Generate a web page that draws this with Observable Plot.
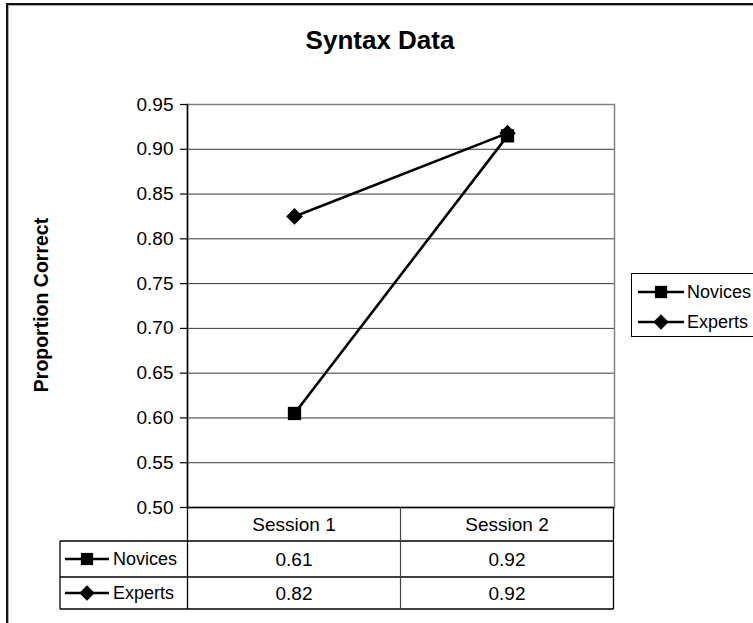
<!DOCTYPE html>
<html><head><meta charset="utf-8">
<script src="https://cdn.jsdelivr.net/npm/d3@7"></script>
<script src="https://cdn.jsdelivr.net/npm/@observablehq/plot@0.6"></script>
<style>
body{margin:0;background:#fff;}
#wrap{position:relative;width:753px;height:623px;overflow:hidden;background:#fff;font-family:"Liberation Sans",Arial,sans-serif;color:#000;}
#wrap > *{position:absolute;}
.frameOuter{left:6px;top:3px;width:900px;height:900px;border-left:2px solid #111;border-top:2px solid #111;box-shadow:inset 1px 1px 0 #aaa;}
.title{left:0;width:760px;top:24px;text-align:center;font-weight:bold;font-size:26px;line-height:32px;}
.ylab{left:41px;top:305px;font-weight:bold;font-size:19.5px;white-space:nowrap;transform:translate(-50%,-50%) rotate(-90deg);}
.legend{left:631px;top:273px;width:200px;height:64px;border:1px solid #000;box-sizing:border-box;background:#fff;}
</style></head><body><div id="wrap"></div>
<script>
// ---- data ----
const title = "Syntax Data";
const yLabel = "Proportion Correct";
const sessions = ["Session 1", "Session 2"];
const groups = ["Novices", "Experts"];
const novices = [0.605, 0.915];
const experts = [0.825, 0.918];
const tableNovices = ["0.61", "0.92"];
const tableExperts = ["0.82", "0.92"];
const yTicks = [0.50, 0.55, 0.60, 0.65, 0.70, 0.75, 0.80, 0.85, 0.90, 0.95];

const series = {Novices: novices, Experts: experts};
const tableVals = {Novices: tableNovices, Experts: tableExperts};
const rows = groups.flatMap(g => sessions.map((s, i) => ({group: g, session: s, value: series[g][i]})));
const symbolRange = ["square", "diamond2"];

const wrap = document.getElementById("wrap");
const FONT = '"Liberation Sans", Arial, sans-serif';

const outer = document.createElement("div"); outer.className = "frameOuter"; wrap.appendChild(outer);

const chart = Plot.plot({
  width: 753, height: 623,
  marginLeft: 187, marginRight: 139, marginTop: 104, marginBottom: 116,
  style: {fontFamily: FONT, fontSize: "19px", color: "#000", background: "transparent", overflow: "visible"},
  x: {type: "point", domain: sessions, padding: 0.5, axis: null},
  y: {domain: [0.5, 0.95]},
  symbol: {domain: groups, range: symbolRange},
  marks: [
    Plot.ruleY(yTicks.slice(1, -1), {stroke: "#3a3a3a", strokeWidth: 1}),
    Plot.frame({stroke: "#808080", strokeWidth: 1.5}),
    Plot.ruleY([0.5], {stroke: "#000", strokeWidth: 1.5}),
    Plot.frame({anchor: "left", stroke: "#000", strokeWidth: 1.5}),
    Plot.axisY({ticks: yTicks, tickFormat: d => d.toFixed(2), tickSize: 7, tickPadding: 7, fontSize: 19, label: null, stroke: "#000", strokeWidth: 1.2}),
    Plot.line(rows, {x: "session", y: "value", z: "group", stroke: "#000", strokeWidth: 2.6}),
    Plot.dot(rows, {x: "session", y: "value", symbol: "group", fill: "#000", stroke: "none", r: 7.5})
  ]
});
chart.style.position = "absolute"; chart.style.left = "0px"; chart.style.top = "0px";
wrap.appendChild(chart);

const t = document.createElement("div"); t.className = "title"; t.textContent = title; wrap.appendChild(t);
const yl = document.createElement("div"); yl.className = "ylab"; yl.textContent = yLabel; wrap.appendChild(yl);

// ---- data table below the plot, aligned with the x scale ----
const xs = chart.scale("x"), ys = chart.scale("y");
const c = sessions.map(s => xs.apply(s));
const step = c[1] - c[0];
const colL = c[0] - step / 2, colR = c[c.length - 1] + step / 2;
const y0 = ys.apply(0.5);
const rowB = [y0, y0 + 34, y0 + 70, y0 + 102];
const tabL = 60;
const svg = d3.select(wrap).append("svg").attr("width", 753).attr("height", 623)
  .style("left", "0px").style("top", "0px").style("position", "absolute")
  .style("font-family", FONT);
const line = (x1, y1, x2, y2, col = "#000", w = 1.3) => svg.append("line").attr("x1", x1).attr("y1", y1).attr("x2", x2).attr("y2", y2).attr("stroke", col).attr("stroke-width", w);
line(tabL, rowB[1], colR, rowB[1]);
line(tabL, rowB[2], colR, rowB[2]);
line(tabL, rowB[3], colR, rowB[3]);
line(tabL, rowB[1], tabL, rowB[3]);
line(colL, rowB[0], colL, rowB[3]);
c.slice(1).forEach(cx => line(cx - step / 2, rowB[0], cx - step / 2, rowB[3], "#444", 1.2));
line(colR, rowB[0], colR, rowB[3]);
sessions.forEach((s, i) => svg.append("text").attr("x", c[i]).attr("y", (rowB[0] + rowB[1]) / 2).attr("dy", "0.36em").attr("text-anchor", "middle").attr("font-size", 19).text(s));
function icon(g, cx, cy, sym, len, size) {
  g.append("line").attr("x1", cx - len / 2).attr("x2", cx + len / 2).attr("y1", cy).attr("y2", cy).attr("stroke", "#000").attr("stroke-width", 2.6);
  g.append("path").attr("transform", `translate(${cx},${cy})`).attr("d", d3.symbol(sym === "square" ? d3.symbolSquare : d3.symbolDiamond2, size)()).attr("fill", "#000");
}
groups.forEach((g, gi) => {
  const cy = (rowB[gi + 1] + rowB[gi + 2]) / 2;
  icon(svg, 87, cy, symbolRange[gi], 44, 150);
  svg.append("text").attr("x", 113).attr("y", cy).attr("dy", "0.36em").attr("font-size", 18).text(g);
  tableVals[g].forEach((v, i) => svg.append("text").attr("x", c[i]).attr("y", cy).attr("dy", "0.36em").attr("text-anchor", "middle").attr("font-size", 19).text(v));
});

// ---- legend ----
const leg = document.createElement("div"); leg.className = "legend"; wrap.appendChild(leg);
const lsvg = d3.select(leg).append("svg").attr("width", 200).attr("height", 62).style("font-family", FONT);
groups.forEach((g, gi) => {
  const cy = 18 + gi * 30;
  icon(lsvg, 29, cy, symbolRange[gi], 46, 150);
  lsvg.append("text").attr("x", 55).attr("y", cy).attr("dy", "0.36em").attr("font-size", 18).text(g);
});
</script>
</body></html>
